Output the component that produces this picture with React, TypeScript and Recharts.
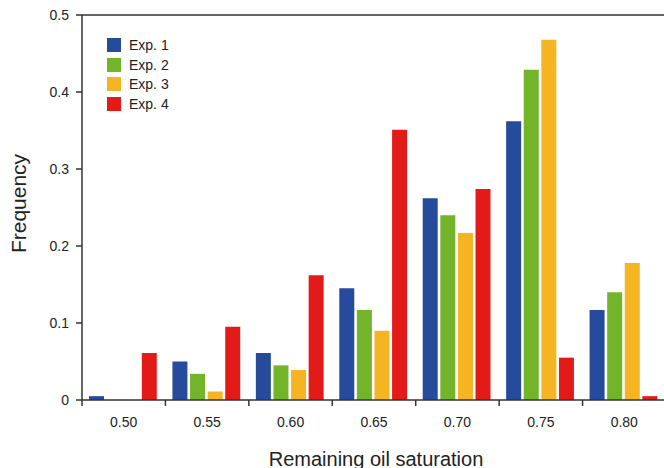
import React from 'react';
import {
  BarChart,
  Bar,
  XAxis,
  YAxis,
  Legend,
  ReferenceLine,
  Label,
} from 'recharts';

const categories = ['0.50', '0.55', '0.60', '0.65', '0.70', '0.75', '0.80'];
const exp1 = [0.005, 0.05, 0.061, 0.145, 0.262, 0.362, 0.117];
const exp2 = [0, 0.034, 0.045, 0.117, 0.24, 0.429, 0.14];
const exp3 = [0, 0.011, 0.039, 0.09, 0.217, 0.468, 0.178];
const exp4 = [0.061, 0.095, 0.162, 0.351, 0.274, 0.055, 0.005];
const yTicks = [0, 0.1, 0.2, 0.3, 0.4, 0.5];

const SERIES = [
  { key: 'exp1', label: 'Exp. 1', color: '#264b9c' },
  { key: 'exp2', label: 'Exp. 2', color: '#73b52a' },
  { key: 'exp3', label: 'Exp. 3', color: '#f5b522' },
  { key: 'exp4', label: 'Exp. 4', color: '#e31b18' },
];

const data = categories.map((c, i) => ({
  name: c,
  exp1: exp1[i],
  exp2: exp2[i],
  exp3: exp3[i],
  exp4: exp4[i],
}));

const FONT = '"Liberation Sans", Arial, sans-serif';
const AXIS = '#333333';

// tick line sits on the left edge of each category band, label in the middle
function XTick(props: any) {
  const { x, y, payload } = props;
  const half = payload && payload.offset ? payload.offset : 41.7;
  return (
    <g>
      <line x1={x - half} x2={x - half} y1={y - 16} y2={y - 10} stroke={AXIS} strokeWidth={1.5} />
      <text x={x} y={y + 11} textAnchor="middle" fontSize={14} fontFamily={FONT} fill="#222">
        {payload.value}
      </text>
    </g>
  );
}

function LegendBox({ payload }: any) {
  return (
    <div style={{ fontFamily: FONT, fontSize: 14, color: '#222' }}>
      {(payload || []).map((p: any) => (
        <div key={p.value} style={{ display: 'flex', alignItems: 'center', height: 19.8 }}>
          <span style={{ width: 14, height: 14, background: p.color, display: 'inline-block', marginRight: 8 }} />
          <span>{p.value}</span>
        </div>
      ))}
    </div>
  );
}

export default function App() {
  return (
    <div
      style={{
        position: 'fixed',
        left: 0,
        top: 0,
        width: 664,
        height: 468,
        overflow: 'hidden',
        background: '#fff',
      }}
    >
      <BarChart
        width={680}
        height={468}
        data={data}
        margin={{ top: 15, right: 14, bottom: 0, left: 0 }}
        barCategoryGap={7}
        barGap={2.6}
      >
        <XAxis
          dataKey="name"
          height={68}
          tick={<XTick />}
          tickLine={false}
          tickSize={6}
          tickMargin={10}
          axisLine={{ stroke: AXIS, strokeWidth: 1.5 }}
          interval={0}
        >
          <Label
            content={(p: any) => {
              const vb = p.viewBox;
              return (
                <text
                  x={vb.x + vb.width / 2 + 2}
                  y={466}
                  textAnchor="middle"
                  fontSize={20}
                  fontFamily={FONT}
                  fill="#222"
                >
                  Remaining oil saturation
                </text>
              );
            }}
          />
        </XAxis>
        <YAxis
          width={82}
          domain={[0, 0.5]}
          ticks={yTicks}
          tickFormatter={(v: number) => (v === 0 ? '0' : v.toFixed(1))}
          tick={{ fontSize: 14, fontFamily: FONT, fill: '#222' }}
          tickSize={6}
          tickMargin={7}
          tickLine={{ stroke: AXIS, strokeWidth: 1.5 }}
          axisLine={{ stroke: AXIS, strokeWidth: 1.5 }}
        >
          <Label
            content={(p: any) => {
              const vb = p.viewBox;
              const cy = vb.y + vb.height / 2 - 4;
              return (
                <text
                  x={26}
                  y={cy}
                  transform={`rotate(-90, 26, ${cy})`}
                  textAnchor="middle"
                  fontSize={21}
                  fontFamily={FONT}
                  fill="#222"
                >
                  Frequency
                </text>
              );
            }}
          />
        </YAxis>
        <ReferenceLine y={0.5} stroke={AXIS} strokeWidth={1.5} />
        <Legend
          layout="vertical"
          align="center"
          verticalAlign="middle"
          content={<LegendBox />}
          wrapperStyle={{ position: 'absolute', left: 107, top: 35, width: 'auto', height: 'auto' }}
        />
        {SERIES.map((s) => (
          <Bar
            key={s.key}
            dataKey={s.key}
            name={s.label}
            fill={s.color}
            isAnimationActive={false}
          />
        ))}
      </BarChart>
    </div>
  );
}
